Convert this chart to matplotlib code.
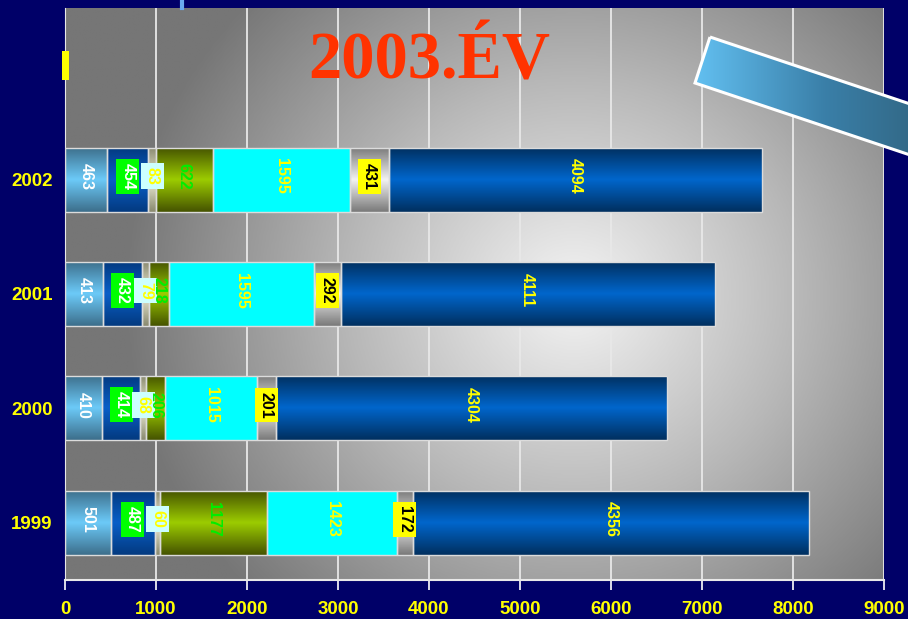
import matplotlib
matplotlib.use("Agg")
import matplotlib.pyplot as plt
import numpy as np
from matplotlib.colors import LinearSegmentedColormap
from matplotlib.patches import Polygon, Rectangle

# ---------------- data ----------------
years = ["1999", "2000", "2001", "2002"]
seg1 = [501, 410, 413, 463]
seg2 = [487, 414, 432, 454]
seg3 = [60, 68, 79, 83]
seg4 = [1177, 206, 218, 622]
seg5 = [1423, 1015, 1595, 1510]
seg6 = [172, 201, 292, 431]
seg7 = [4356, 4304, 4111, 4094]
seg5_labels = ["1423", "1015", "1595", "1595"]
xticks = [0, 1000, 2000, 3000, 4000, 5000, 6000, 7000, 8000, 9000]
title = "2003.ÉV"

series = [seg1, seg2, seg3, seg4, seg5, seg6, seg7]
labels = [[str(v) for v in s] for s in series]
labels[4] = seg5_labels

# gradient colours: (edge, centre)
grads = [
    ("#3d6f8c", "#6ccaf8"),
    ("#033a80", "#0a5fc8"),
    ("#8a8a70", "#f0f0d8"),
    ("#465400", "#9ccc00"),
    ("#00ffff", "#00ffff"),
    ("#7a7a7a", "#f2f2f2"),
    ("#003060", "#0066cc"),
]
txt_style = [
    dict(color="white"),
    dict(color="white", bbox=dict(boxstyle="square,pad=0.25", fc="#00ff00", ec="none")),
    dict(color="#ffff00", bbox=dict(boxstyle="square,pad=0.25", fc="#ccffff", ec="none")),
    dict(color="#00ee00"),
    dict(color="#ffff00"),
    dict(color="black", bbox=dict(boxstyle="square,pad=0.25", fc="#ffff00", ec="none")),
    dict(color="#ffff00"),
]

NAVY = "#000068"
fig = plt.figure(figsize=(9.08, 6.19), dpi=100, facecolor=NAVY)
ax = fig.add_axes([65 / 908, 1 - 580 / 619, 819 / 908, 572 / 619])
ax.set_facecolor("#808080")

ax.set_xlim(0, 9000)
ax.set_ylim(-0.5, 4.5)

# background radial gradient of plot area
ny, nx = 200, 300
yy, xx = np.mgrid[0:ny, 0:nx]
cx, cy = 0.62 * nx, 0.50 * ny
r = np.sqrt(((xx - cx) / (0.55 * nx)) ** 2 + ((yy - cy) / (0.75 * ny)) ** 2)
bg = np.clip(1 - r, 0, 1)
bgcmap = LinearSegmentedColormap.from_list("bg", ["#767676", "#b8b8b8", "#f4f4f4"])
ax.imshow(bg, cmap=bgcmap, extent=(0, 9000, -0.5, 4.5), aspect="auto",
          origin="upper", zorder=0, interpolation="bilinear")

for xt in xticks:
    ax.axvline(xt, color="#e8e8e8", lw=1.3, zorder=1)

ypos = np.arange(len(years))
h = 0.56
left = np.zeros(len(years))
vgrad = np.linspace(0, 1, 64)
vgrad = 1 - np.abs(vgrad - 0.5) * 2
vgrad = vgrad.reshape(-1, 1)
for si, vals in enumerate(series):
    vals = np.array(vals, dtype=float)
    bars = ax.barh(ypos, vals, left=left, height=h, color="none",
                   edgecolor="#dcdcdc", lw=1.0, zorder=3)
    cmap = LinearSegmentedColormap.from_list("g%d" % si, list(grads[si]))
    for b, y, l, v, lab in zip(bars, ypos, left, vals, labels[si]):
        im = ax.imshow(vgrad, cmap=cmap, extent=(l, l + v, y - h / 2, y + h / 2),
                       aspect="auto", zorder=2, interpolation="bilinear", vmin=0, vmax=1)
        im.set_clip_path(b)
        ax.text(l + v / 2, y + 0.03, lab, rotation=-90, ha="center", va="center",
                fontsize=11.5, fontweight="bold", family="Liberation Sans",
                zorder=5, **txt_style[si])
    left = left + vals

ax.set_yticks(list(ypos) + [4])
ax.set_yticklabels(years + [""])
ax.set_xticks(xticks)
ax.set_xticklabels([str(x) for x in xticks])
ax.tick_params(axis="y", length=0, pad=9, labelcolor="#ffff00")
ax.tick_params(axis="x", length=7, width=1.2, color="white", pad=8, labelcolor="#ffff00")
for t in ax.get_yticklabels():
    t.set_fontsize(13.5)
    t.set_fontweight("bold")
    t.set_family("Liberation Sans")
for t in ax.get_xticklabels():
    t.set_fontsize(13.5)
    t.set_fontweight("bold")
    t.set_family("Liberation Sans")

for s in ["top", "right"]:
    ax.spines[s].set_visible(False)
ax.spines["left"].set_color("#e8e8e8")
ax.spines["bottom"].set_color("#e8e8e8")
ax.spines["bottom"].set_linewidth(1.5)

ax.text(4000, 3.88, title, ha="center", va="baseline", fontsize=48,
        fontweight="bold", family="Liberation Serif", color="#ff3300", zorder=6)

# decorations in figure pixel coordinates
fax = fig.add_axes([0, 0, 1, 1], facecolor="none")
fax.set_xlim(0, 908)
fax.set_ylim(619, 0)
fax.axis("off")
px = np.array([710, 695, 940, 955])
py = np.array([37, 83, 165, 119])
poly = Polygon(np.column_stack([px, py]), closed=True, fc="none", ec="white", lw=2.2, zorder=3)
fax.add_patch(poly)
scmap = LinearSegmentedColormap.from_list("st", ["#62bff0", "#3a7fa8", "#2f5f78"])
g = np.linspace(0, 1, 100).reshape(1, -1)
sim = fax.imshow(g, cmap=scmap, extent=(695, 955, 165, 37),
                 aspect="auto", zorder=2, interpolation="bilinear")
sim.set_clip_path(poly)
fax.plot([182, 182], [0, 8], color="#6aaaf0", lw=3)
fax.add_patch(Rectangle((62, 51), 7, 29, fc="#ffff00", ec="none", zorder=4))
fax.set_xlim(0, 908)
fax.set_ylim(619, 0)

fig.savefig("out.png", dpi=100, facecolor=NAVY)
